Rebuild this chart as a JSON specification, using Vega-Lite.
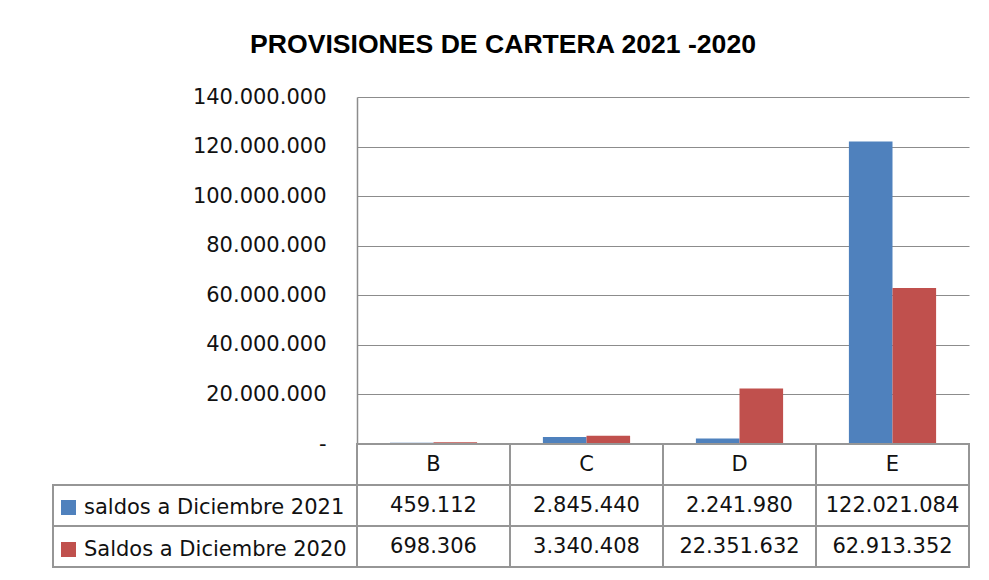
{
  "$schema": "https://vega.github.io/schema/vega-lite/v6.json",
  "padding": {"left": 52, "top": 32, "right": 21, "bottom": 12},
  "background": "white",
  "title": {
    "text": "PROVISIONES DE CARTERA 2021 -2020",
    "font": "Liberation Sans",
    "fontSize": 26.6,
    "fontWeight": "bold",
    "color": "#000000",
    "anchor": "middle",
    "dx": -8,
    "offset": 27
  },
  "config": {
    "view": {"stroke": null},
    "locale": {"number": {"decimal": ",", "thousands": ".", "grouping": [3], "currency": ["$", ""]}}
  },
  "datasets": {
    "bars": [
      {"cat": "B", "serie": "saldos a Diciembre 2021", "valor": 459112},
      {"cat": "B", "serie": "Saldos a Diciembre 2020", "valor": 698306},
      {"cat": "C", "serie": "saldos a Diciembre 2021", "valor": 2845440},
      {"cat": "C", "serie": "Saldos a Diciembre 2020", "valor": 3340408},
      {"cat": "D", "serie": "saldos a Diciembre 2021", "valor": 2241980},
      {"cat": "D", "serie": "Saldos a Diciembre 2020", "valor": 22351632},
      {"cat": "E", "serie": "saldos a Diciembre 2021", "valor": 122021084},
      {"cat": "E", "serie": "Saldos a Diciembre 2020", "valor": 62913352}
    ],
    "cats": [{"cat": "B"}, {"cat": "C"}, {"cat": "D"}, {"cat": "E"}],
    "series": [{"serie": "saldos a Diciembre 2021"}, {"serie": "Saldos a Diciembre 2020"}]
  },
  "columns": 2,
  "spacing": 0,
  "bounds": "flush",
  "concat": [
    {
      "width": 304,
      "height": 347,
      "data": {"values": [{"k": 1}]},
      "mark": {"type": "text"},
      "encoding": {"text": {"value": ""}}
    },
    {
      "width": 612,
      "height": 347,
      "data": {"name": "bars"},
      "mark": {"type": "bar"},
      "encoding": {
        "x": {
          "field": "cat",
          "type": "nominal",
          "scale": {"domain": ["B", "C", "D", "E"], "paddingInner": 0.43, "paddingOuter": 0.215},
          "axis": null
        },
        "xOffset": {
          "field": "serie",
          "type": "nominal",
          "scale": {"domain": ["saldos a Diciembre 2021", "Saldos a Diciembre 2020"], "paddingInner": 0, "paddingOuter": 0}
        },
        "y": {
          "field": "valor",
          "type": "quantitative",
          "scale": {"domain": [0, 140000000], "nice": false},
          "axis": {
            "title": null,
            "values": [0, 20000000, 40000000, 60000000, 80000000, 100000000, 120000000, 140000000],
            "format": ",d",
            "labelExpr": "datum.value == 0 ? '-' : datum.label",
            "grid": true,
            "gridColor": "#8c8c8c",
            "gridWidth": 1,
            "ticks": false,
            "domain": true,
            "domainColor": "#8c8c8c",
            "domainWidth": 1.5,
            "labelPadding": 31,
            "labelFont": "DejaVu Sans",
            "labelFontSize": 21,
            "labelColor": "#111111"
          }
        },
        "color": {
          "field": "serie",
          "type": "nominal",
          "scale": {"domain": ["saldos a Diciembre 2021", "Saldos a Diciembre 2020"], "range": ["#4F81BD", "#C0504D"]},
          "legend": {
            "orient": "none",
            "legendX": 5,
            "legendY": 400,
            "title": null,
            "symbolType": "square",
            "symbolSize": 225,
            "symbolStrokeWidth": 0,
            "labelFont": "DejaVu Sans",
            "labelFontSize": 21,
            "labelColor": "#111111",
            "labelOffset": 5,
            "rowPadding": 20,
            "labelLimit": 400
          }
        }
      }
    },
    {
      "width": 304,
      "height": 123,
      "data": {"name": "series"},
      "mark": {"type": "rect", "fill": "white", "stroke": "#969696", "strokeWidth": 2},
      "encoding": {
        "y": {
          "field": "serie",
          "type": "nominal",
          "scale": {"domain": ["hdr", "saldos a Diciembre 2021", "Saldos a Diciembre 2020"], "paddingInner": 0, "paddingOuter": 0},
          "axis": null
        }
      }
    },
    {
      "width": 612,
      "height": 123,
      "layer": [
        {
          "data": {"name": "cats"},
          "mark": {"type": "rect", "fill": "white", "stroke": "#969696", "strokeWidth": 2},
          "encoding": {
            "x": {"field": "cat", "type": "nominal", "scale": {"domain": ["B", "C", "D", "E"], "paddingInner": 0, "paddingOuter": 0}, "axis": null},
            "y": {"datum": "hdr", "type": "nominal", "scale": {"domain": ["hdr", "saldos a Diciembre 2021", "Saldos a Diciembre 2020"], "paddingInner": 0, "paddingOuter": 0}, "axis": null}
          }
        },
        {
          "data": {"name": "bars"},
          "mark": {"type": "rect", "fill": "white", "stroke": "#969696", "strokeWidth": 2},
          "encoding": {
            "x": {"field": "cat", "type": "nominal", "axis": null},
            "y": {"field": "serie", "type": "nominal", "axis": null}
          }
        },
        {
          "data": {"name": "cats"},
          "mark": {"type": "text", "font": "DejaVu Sans", "fontSize": 21, "color": "#111111"},
          "encoding": {
            "x": {"field": "cat", "type": "nominal", "axis": null},
            "y": {"datum": "hdr", "type": "nominal", "axis": null},
            "text": {"field": "cat"}
          }
        },
        {
          "data": {"name": "bars"},
          "mark": {"type": "text", "font": "DejaVu Sans", "fontSize": 21, "color": "#111111"},
          "encoding": {
            "x": {"field": "cat", "type": "nominal", "axis": null},
            "y": {"field": "serie", "type": "nominal", "axis": null},
            "text": {"field": "valor", "type": "quantitative", "format": ",d"}
          }
        }
      ]
    }
  ]
}
